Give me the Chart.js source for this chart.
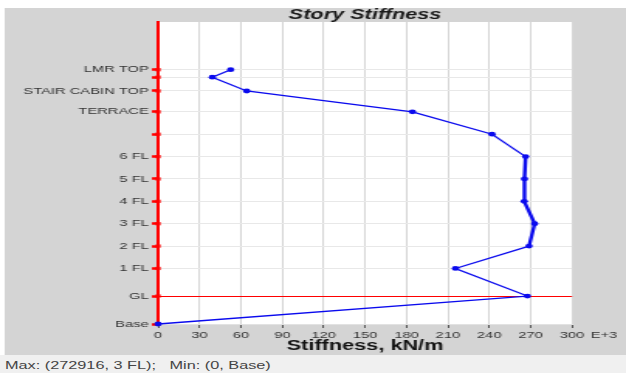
<!DOCTYPE html>
<html>
<head>
<meta charset="utf-8">
<title>Story Stiffness</title>
<script src="https://cdn.jsdelivr.net/npm/chart.js@4.4.1/dist/chart.umd.min.js"></script>
<style>
  html, body { margin: 0; padding: 0; background: #ffffff; overflow: hidden; }
  /* The whole view is laid out at a narrow width and widened horizontally. */
  #stage {
    position: absolute; left: 0; top: 0; width: 404px; height: 376px;
    transform: scaleX(1.5495); transform-origin: 0 0;
  }
  #panel { position: absolute; left: 3.2px; top: 8px; width: 400.8px; height: 347px; background: #d4d4d4; }
  #status {
    position: absolute; left: 0; top: 355px; width: 404px; height: 18px;
    background: #f0f0f0; color: #444;
    font: 10.5px "Liberation Sans", Arial, sans-serif; line-height: 20px;
    padding-left: 3.2px; box-sizing: border-box; white-space: pre;
  }
  #chart { position: absolute; left: 0; top: 0; }
</style>
</head>
<body>
<div id="stage">
  <div id="panel"></div>
  <canvas id="chart" width="404" height="355"></canvas>
  <div id="status"></div>
</div>
<script>
// Story levels, bottom to top, with their elevations (m)
const levelNames = ['Base', 'GL', '1 FL', '2 FL', '3 FL', '4 FL', '5 FL', '6 FL', '', 'TERRACE', 'STAIR CABIN TOP', '', 'LMR TOP'];
const levelElev  = [0, 3.75, 7.45, 10.45, 13.45, 16.45, 19.45, 22.45, 25.45, 28.45, 31.25, 33.1, 34.1];

// Story stiffness at each level (kN/m)
const stiffness  = [0, 267600, 215500, 268800, 272916, 265300, 265500, 266300, 242000, 184300, 64200, 39300, 52600];

// Stiffness axis ticks (x 1000 kN/m)
const xTicks = [0, 30, 60, 90, 120, 150, 180, 210, 240, 270, 300];

const GROUND = levelElev[levelNames.indexOf('GL')];
const FONT = '"Liberation Sans", Arial, sans-serif';
const BLUE = '#0a0aee';
const RED = '#ff0000';

// Max / min readout in the status bar
(function () {
  let iMax = 0, iMin = 0;
  stiffness.forEach((v, i) => {
    if (v > stiffness[iMax]) iMax = i;
    if (v < stiffness[iMin]) iMin = i;
  });
  document.getElementById('status').textContent =
    'Max: (' + stiffness[iMax] + ', ' + levelNames[iMax] + ');   Min: (' +
    stiffness[iMin] + ', ' + levelNames[iMin] + ')';
})();

// White plot area, chart title and the exponent note next to the last tick
const decor = {
  id: 'decor',
  beforeDraw(chart) {
    const { ctx, chartArea: a } = chart;
    ctx.save();
    ctx.fillStyle = '#ffffff';
    ctx.fillRect(a.left, a.top, a.right - a.left, a.bottom - a.top);
    ctx.restore();
  },
  afterDraw(chart) {
    const { ctx, chartArea: a } = chart;
    ctx.save();
    ctx.fillStyle = '#1a1a1a';
    ctx.font = 'italic bold 14px ' + FONT;
    ctx.textAlign = 'center';
    ctx.textBaseline = 'middle';
    ctx.fillText('Story Stiffness', (a.left + a.right) / 2, 15);
    ctx.fillStyle = '#333';
    ctx.font = '9.5px ' + FONT;
    ctx.textAlign = 'left';
    ctx.fillText('E+3', a.right + 12, a.bottom + 11);
    ctx.restore();
  }
};

new Chart(document.getElementById('chart').getContext('2d'), {
  type: 'scatter',
  data: {
    datasets: [
      {
        label: 'Stiffness',
        data: stiffness.map((v, i) => ({ x: v / 1000, y: levelElev[i] })),
        showLine: true,
        borderColor: BLUE,
        backgroundColor: BLUE,
        borderWidth: 1.3,
        pointRadius: 2.4,
        pointHoverRadius: 2.4,
        pointBorderWidth: 0,
        clip: false,
        segment: {
          borderWidth: c => (c.p0DataIndex >= 3 && c.p0DataIndex <= 6) ? 2.4 : 1.3
        }
      },
      {
        label: 'Levels',
        data: levelElev.map(e => ({ x: 0, y: e })),
        showLine: false,
        pointStyle: 'rect',
        pointRadius: 2.3,
        pointHoverRadius: 2.3,
        backgroundColor: RED,
        borderWidth: 0,
        clip: false
      }
    ]
  },
  options: {
    responsive: false,
    animation: false,
    events: [],
    layout: { padding: { left: 0, right: 34.8, top: 22, bottom: 0 } },
    plugins: {
      legend: { display: false },
      tooltip: { enabled: false },
      title: { display: false }
    },
    scales: {
      x: {
        type: 'linear',
        min: 0,
        max: 300,
        afterBuildTicks: s => { s.ticks = xTicks.map(v => ({ value: v })); },
        afterFit: s => { s.height = 31; },
        grid: { color: '#d6d6d6', lineWidth: 1, tickLength: 4, tickColor: '#555', tickWidth: 1 },
        border: { color: '#e2e2e2', width: 1 },
        ticks: { font: { family: FONT, size: 9.5 }, color: '#333', padding: 2, maxRotation: 0, autoSkip: false },
        title: {
          display: true,
          text: 'Stiffness, kN/m',
          font: { family: FONT, size: 14, weight: 'bold' },
          color: '#111',
          padding: { top: 0, bottom: 0 }
        }
      },
      y: {
        type: 'linear',
        min: 0,
        max: 40.5,
        afterBuildTicks: s => { s.ticks = levelElev.map(v => ({ value: v })); },
        afterFit: s => { s.width = 102; },
        grid: {
          color: c => (c.tick && c.tick.value === GROUND) ? RED : '#e8e8e8',
          lineWidth: 1,
          tickLength: 4,
          tickColor: RED,
          tickWidth: 2.5
        },
        border: { color: RED, width: 2 },
        ticks: {
          autoSkip: false,
          font: { family: FONT, size: 9.5 },
          color: '#333',
          padding: 2,
          callback: (v, i) => levelNames[i]
        }
      }
    }
  },
  plugins: [decor]
});
</script>
</body>
</html>
